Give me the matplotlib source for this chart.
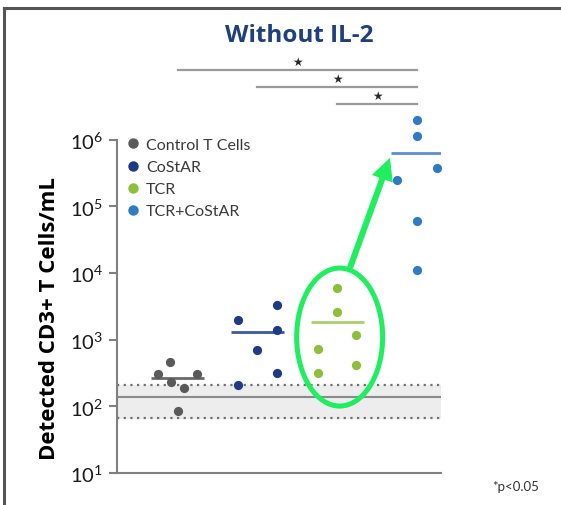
import matplotlib
matplotlib.use("Agg")
import matplotlib.pyplot as plt
import matplotlib.transforms as mtransforms
from matplotlib.patches import Ellipse
from matplotlib.lines import Line2D
import numpy as np

# data
groups = ["Control T Cells", "CoStAR", "TCR", "TCR+CoStAR"]
control = [468, 310, 310, 228, 190, 86]
costar = [2000, 3300, 690, 1380, 320, 212]
tcr = [5900, 2600, 1170, 730, 415, 316]
tcr_costar = [1.95e6, 1.12e6, 3.8e5, 2.5e5, 6.0e4, 1.12e4]
values = [control, costar, tcr, tcr_costar]

# background band (detection range)
band_low = 66
band_mid = 137
band_high = 208

# significance comparisons (group index pairs)
comparisons = [(0, 3), (1, 3), (2, 3)]

colors = ["#5a5a5a", "#1f3a86", "#8dbf3d", "#2f7cc4"]
mean_colors = ["#6a6a6a", "#3a5aa3", "#a8cf6c", "#5a90cf"]
green = "#1fee5f"

# horizontal jitter of the dots, per group
offsets = [
    [-0.09, -0.24, 0.24, -0.08, 0.08, 0.0],
    [-0.24, 0.25, 0.0, 0.25, 0.25, -0.24],
    [0.0, 0.0, 0.24, -0.24, 0.24, -0.24],
    [0.0, 0.0, 0.25, -0.25, 0.0, 0.0],
]

plt.rcParams["font.family"] = ["Lato", "DejaVu Sans"]

fig = plt.figure(figsize=(5.61, 5.06), dpi=100)
ax = fig.add_axes([117 / 561, 32 / 506, 324 / 561, 419 / 506])
ax.set_yscale("log")
ax.set_xlim(-0.76, 3.3)
ax.set_ylim(10, 10 ** 7.285)

# detection band
ax.axhspan(band_low, band_high, color="#ededed", zorder=0)
for yv in (band_low, band_high):
    ax.axhline(yv, color="#707070", lw=1.6, ls=(0, (1, 2)), zorder=1)
ax.axhline(band_mid, color="#8a8a8a", lw=1.5, zorder=1)

# dots and mean lines
for i, (vals, offs) in enumerate(zip(values, offsets)):
    xs = [i + o for o in offs]
    ax.scatter(xs, vals, s=44, color=colors[i], zorder=3, clip_on=False,
               linewidths=0)
    m = np.mean(vals)
    ax.plot([i - 0.33, i + 0.33], [m, m], color=mean_colors[i], lw=2,
            zorder=2, solid_capstyle="butt")

# significance bars
bar_levels = [10 ** 7.045, 10 ** 6.79, 10 ** 6.535]
for (a, b), yb in zip(comparisons, bar_levels):
    ax.plot([a, b], [yb, yb], color="#9a9a9a", lw=1.6, clip_on=False)
    ax.text((a + b) / 2, yb * 1.09, "\u2605", ha="center", va="bottom",
            fontsize=8.5, color="#2a2a2a", family="DejaVu Sans")

# green ellipse around TCR group, arrow to TCR+CoStAR mean
yc = 10 ** np.mean(np.log10(tcr))
trans = fig.dpi_scale_trans + mtransforms.ScaledTranslation(2.03, yc, ax.transData)
ax.add_patch(Ellipse((0, 0), 0.86, 1.38, transform=trans, fill=False,
                     edgecolor=green, lw=3.6, zorder=4))
ax.annotate("", xy=(3 - 0.34, np.mean(tcr_costar) * 0.85),
            xytext=(2.16, 10 ** 4.08),
            arrowprops=dict(arrowstyle="simple,head_length=0.8,head_width=0.8,tail_width=0.22",
                            color=green, lw=0, mutation_scale=20,
                            shrinkA=0, shrinkB=0), zorder=4)

# axes styling
for s in ("top", "right"):
    ax.spines[s].set_visible(False)
ax.spines["left"].set_bounds(10, 1e6)
ax.spines["left"].set_color("#808080")
ax.spines["bottom"].set_color("#808080")
ax.spines["left"].set_linewidth(1.5)
ax.spines["bottom"].set_linewidth(1.5)
ax.set_yticks([10, 100, 1e3, 1e4, 1e5, 1e6])
ax.minorticks_off()
ax.tick_params(axis="y", length=6, width=1.5, color="#808080",
               labelsize=14.5, pad=4, labelcolor="#1a1a1a")
ax.set_xticks([])
ax.set_ylabel("Detected CD3+ T Cells/mL", fontsize=16, fontweight="bold",
              family="Open Sans")
ax.yaxis.set_label_coords(-0.175, 0.37)

# legend
handles = [Line2D([], [], ls="", marker="o", ms=6.5, color=c) for c in colors]
ax.legend(handles, groups, loc="upper left", bbox_to_anchor=(0.035, 0.80),
          frameon=False, fontsize=11.5, handlelength=0.6, handletextpad=0.5,
          labelspacing=0.5, borderpad=0, borderaxespad=0,
          labelcolor="#3a3a3a")

fig.text(299 / 561, 1 - 36 / 506, "Without IL-2", ha="center", va="center",
         fontsize=17.5, fontweight="bold", color="#1f3f80",
         family="Open Sans")
fig.text(492 / 561, 1 - 487 / 506, "*p<0.05", ha="left", va="center",
         fontsize=9.5, color="#333333")

# outer frame
fig.add_artist(Line2D([4 / 561, 4 / 561], [0, 1 - 9 / 506], color="#555555",
                      lw=2.2, transform=fig.transFigure))
fig.add_artist(Line2D([4 / 561, 1], [1 - 9 / 506, 1 - 9 / 506],
                      color="#555555", lw=2.2, transform=fig.transFigure))

fig.savefig("out.png", dpi=100)
